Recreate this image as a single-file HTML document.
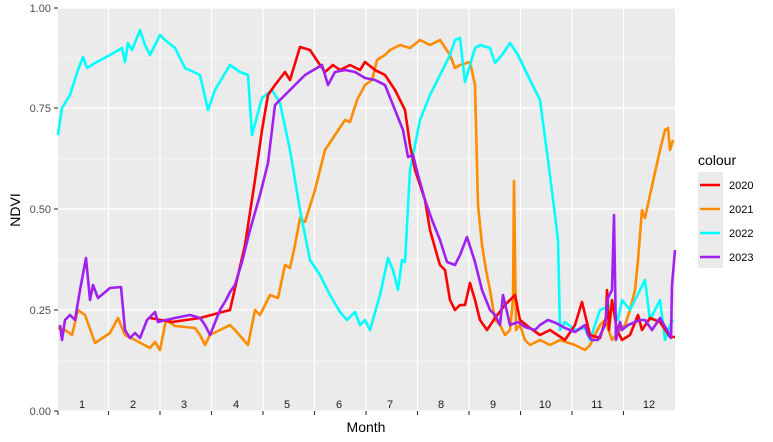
<!DOCTYPE html>
<html><head><style>
body{margin:0;background:#fff;}
svg{display:block;font-family:"Liberation Sans",Arial,sans-serif;}
</style></head><body>
<svg width="773" height="442" viewBox="0 0 773 442">
<rect x="58" y="8" width="617" height="403" fill="#ebebeb"/>
<g stroke="#fff" stroke-width="0.6">
<line x1="58" x2="675" y1="361" y2="361"/><line x1="58" x2="675" y1="260" y2="260"/>
<line x1="58" x2="675" y1="159" y2="159"/><line x1="58" x2="675" y1="58" y2="58"/>
</g>
<g stroke="#fff" stroke-width="1.2">
<line x1="58" x2="675" y1="411" y2="411"/><line x1="58" x2="675" y1="310" y2="310"/>
<line x1="58" x2="675" y1="209" y2="209"/><line x1="58" x2="675" y1="108" y2="108"/>
<line x1="58" x2="675" y1="8" y2="8"/>
<line x1="108.5" x2="108.5" y1="8" y2="411"/><line x1="160" x2="160" y1="8" y2="411"/>
<line x1="211.5" x2="211.5" y1="8" y2="411"/><line x1="263" x2="263" y1="8" y2="411"/>
<line x1="314.5" x2="314.5" y1="8" y2="411"/><line x1="366" x2="366" y1="8" y2="411"/>
<line x1="417.5" x2="417.5" y1="8" y2="411"/><line x1="469" x2="469" y1="8" y2="411"/>
<line x1="520.5" x2="520.5" y1="8" y2="411"/><line x1="572" x2="572" y1="8" y2="411"/>
<line x1="623.5" x2="623.5" y1="8" y2="411"/>
</g>
<g stroke="#333" stroke-width="1.1">
<line x1="54" x2="58" y1="411" y2="411"/><line x1="54" x2="58" y1="310" y2="310"/>
<line x1="54" x2="58" y1="209" y2="209"/><line x1="54" x2="58" y1="108" y2="108"/>
<line x1="54" x2="58" y1="8" y2="8"/>
<line x1="58" x2="58" y1="411" y2="415"/>
<line x1="108.5" x2="108.5" y1="411" y2="415"/><line x1="160" x2="160" y1="411" y2="415"/>
<line x1="211.5" x2="211.5" y1="411" y2="415"/><line x1="263" x2="263" y1="411" y2="415"/>
<line x1="314.5" x2="314.5" y1="411" y2="415"/><line x1="366" x2="366" y1="411" y2="415"/>
<line x1="417.5" x2="417.5" y1="411" y2="415"/><line x1="469" x2="469" y1="411" y2="415"/>
<line x1="520.5" x2="520.5" y1="411" y2="415"/><line x1="572" x2="572" y1="411" y2="415"/>
<line x1="623.5" x2="623.5" y1="411" y2="415"/>
</g>
<g font-size="11" fill="#4d4d4d" text-anchor="end">
<text x="51" y="415">0.00</text><text x="51" y="314">0.25</text><text x="51" y="213">0.50</text>
<text x="51" y="112">0.75</text><text x="51" y="12">1.00</text>
</g>
<g font-size="11" fill="#1a1a1a" text-anchor="middle">
<text x="82" y="408">1</text><text x="133" y="408">2</text><text x="184" y="408">3</text>
<text x="236" y="408">4</text><text x="287" y="408">5</text><text x="339" y="408">6</text>
<text x="390" y="408">7</text><text x="441" y="408">8</text><text x="493" y="408">9</text>
<text x="545" y="408">10</text><text x="597" y="408">11</text><text x="649" y="408">12</text>
</g>
<text x="366" y="432" font-size="14" text-anchor="middle" fill="#000">Month</text>
<text transform="translate(20,210) rotate(-90)" font-size="14" text-anchor="middle" fill="#000">NDVI</text>
<g fill="none" stroke-width="2.6" stroke-linejoin="round">
<polyline stroke="#ff8c00" points="58,328 65,330 72,335 78,310 85,315 95,343 110,333 118,318 125,335 135,340 150,348 155,342 160,350 166,320 175,326 195,328 200,335 205,345 210,335 230,325 235,330 248,345 255,310 260,315 270,295 278,298 285,265 290,268 295,245 300,218 305,222 315,190 325,150 335,135 345,120 350,122 357,100 365,85 372,80 377,60 385,55 390,50 400,45 410,48 420,40 430,45 440,40 450,55 455,68 460,65 470,62 475,85 478,205 482,245 486,270 490,290 495,320 500,325 505,335 510,330 513,300 514,181 516,330 520,325 525,340 530,345 540,340 550,345 560,340 575,345 585,350 590,345 600,325 605,320 612,340 620,330 625,325 630,310 635,290 638,260 642,210 645,218 650,195 660,150 665,130 668,128 670,150 673,140"/>
<polyline stroke="#00ffff" points="58,135 62,108 70,95 78,70 83,57 87,68 95,63 110,55 122,48 125,62 128,43 132,50 140,30 145,45 150,55 160,35 165,40 175,48 185,68 200,75 208,110 215,90 230,65 240,72 248,75 252,135 262,98 272,90 280,103 290,150 300,210 310,260 320,275 330,295 340,312 347,320 355,312 360,325 365,320 370,330 380,295 388,258 393,270 398,290 402,260 405,262 410,170 420,120 430,95 440,75 450,55 455,40 460,38 465,82 470,65 475,48 480,45 490,48 495,63 502,55 510,43 518,55 530,80 540,100 548,160 555,215 558,240 560,330 565,322 575,330 585,328 590,340 595,325 600,310 605,308 612,305 618,320 622,300 630,310 640,290 645,280 650,320 660,300 665,340 670,325 673,320"/>
<polyline stroke="#ff0000" points="150,318 172,322 200,318 230,310 245,245 255,180 262,130 268,95 275,85 285,72 290,80 300,47 310,50 318,62 325,72 333,65 340,70 350,65 360,70 365,62 375,70 385,75 395,90 405,110 410,145 415,170 420,185 425,200 430,230 437,255 440,265 445,270 450,300 455,310 460,305 465,305 470,283 475,300 480,320 487,330 495,318 505,305 515,295 520,320 530,328 540,335 550,330 565,340 575,325 582,302 590,335 600,338 606,318 607,290 609,330 612,300 617,330 622,340 630,335 638,315 642,330 650,318 660,322 670,337 675,337"/>
<polyline stroke="#a020f0" points="60,325 62,340 65,320 70,315 75,320 80,290 86,258 90,300 93,285 98,298 110,288 121,287 125,330 130,338 135,333 140,338 147,320 155,312 158,322 166,320 175,318 190,315 200,318 205,325 210,335 220,310 226,300 230,292 235,285 242,262 250,230 260,195 268,163 275,105 285,95 295,85 305,75 322,65 328,85 335,72 345,70 355,72 365,78 375,80 385,85 395,110 403,130 408,157 413,155 418,175 425,200 432,220 440,240 447,262 455,265 460,255 467,237 475,262 482,290 490,310 495,315 500,325 503,295 510,325 518,322 525,327 535,330 540,325 548,320 556,323 565,328 575,332 585,325 588,335 592,340 598,340 605,325 608,298 612,290 614,215 616,340 620,322 622,330 628,325 640,320 645,320 652,330 660,318 667,330 671,338 672,285 675,250"/>
</g>
<text x="698" y="165" font-size="14" fill="#000">colour</text>
<rect x="698" y="172" width="25" height="96" fill="#ebebeb"/>
<g stroke-width="2.6">
<line x1="700" x2="720" y1="185" y2="185" stroke="#ff0000"/>
<line x1="700" x2="720" y1="209" y2="209" stroke="#ff8c00"/>
<line x1="700" x2="720" y1="233" y2="233" stroke="#00ffff"/>
<line x1="700" x2="720" y1="257" y2="257" stroke="#a020f0"/>
</g>
<g font-size="11" fill="#000">
<text x="729" y="189">2020</text><text x="729" y="213">2021</text>
<text x="729" y="237">2022</text><text x="729" y="261">2023</text>
</g>
</svg>
</body></html>
